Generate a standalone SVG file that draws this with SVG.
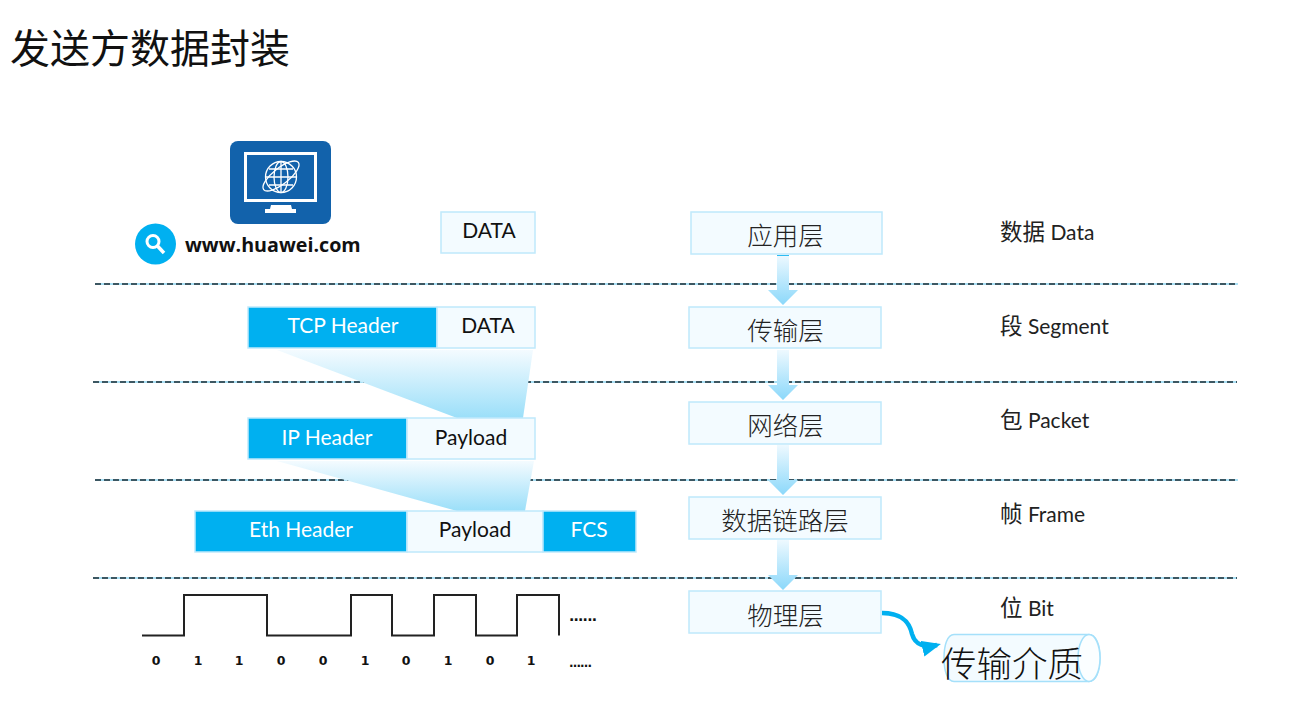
<svg xmlns="http://www.w3.org/2000/svg" width="1295" height="701" viewBox="0 0 1295 701">
<style>
.lat{font-family:Lato,"Open Sans","Noto Sans CJK SC",sans-serif}
.cjk{font-family:"Noto Sans CJK SC",sans-serif;font-weight:300}
.box{fill:#f3fbff;stroke:#bfe9fb;stroke-width:1.5}
.hdr{fill:#00b0f0;stroke:#bfe9fb;stroke-width:1.5}
.w{fill:#fff;font-size:21px;text-anchor:middle}
.k{fill:#111;font-size:21px;text-anchor:middle}
.layer{fill:#222;font-size:25.500px;text-anchor:middle}
.unit{fill:#222;font-size:21px}
.big{font-size:22.500px}
.bit{font-family:"DejaVu Sans",sans-serif;font-weight:700;font-size:12.500px;fill:#111;text-anchor:middle}
.dl{stroke:#8fd6f2;stroke-width:1.500;fill:none}
.dd{stroke:#182a32;stroke-width:1.500;stroke-dasharray:6 3;fill:none}
.fan{fill:url(#fan)}
.arr{fill:url(#arr)}
</style>
<defs>
<linearGradient id="fan" x1="0" y1="0" x2="0" y2="1"><stop offset="0" stop-color="#f4fbff"/><stop offset="1" stop-color="#9bdff9"/></linearGradient>
<linearGradient id="arr" x1="0" y1="0" x2="0" y2="1"><stop offset="0" stop-color="#eef9ff"/><stop offset="1" stop-color="#8bd8fa"/></linearGradient>
<marker id="tip" markerUnits="userSpaceOnUse" markerWidth="24" markerHeight="20" refX="15" refY="8" orient="auto"><path d="M0 0L19 8L0 16Z" fill="#00b0f0"/></marker>
</defs>
<text x="10" y="63" class="cjk" font-size="40" fill="#111" style="font-weight:400">发送方数据封装</text>
<g id="separators">
<path class="dl" d="M95 284H1238M93 382H1237M95 480H1238M93 578H1237"/>
<path class="dd" d="M95 284H1238M93 382H1237M95 480H1238M93 578H1237"/>
</g>
<g id="host">
<rect x="230" y="141" width="101" height="83" rx="8" fill="#1262ab"/>
<rect x="245.500" y="153.500" width="70" height="47" fill="none" stroke="#fff" stroke-width="3"/>
<path d="M271 205H291L292 209H296V213H265V209H270Z" fill="#fff"/>
<g fill="none" stroke="#fff" stroke-width="1.300">
<circle cx="281" cy="177" r="15.500"/>
<ellipse cx="281" cy="177" rx="7" ry="15.500"/>
<path d="M281 162V192M266 177H296M269 169H293M269 185H293"/>
<ellipse cx="281" cy="176" rx="22" ry="8" transform="rotate(-38 281 176)"/>
</g>
<circle cx="155.500" cy="244" r="20.500" fill="#00b0f0"/>
<circle cx="153" cy="241.500" r="6" fill="none" stroke="#fff" stroke-width="3"/>
<path d="M157.500 246L164 253" stroke="#fff" stroke-width="3.500" fill="none"/>
<text x="185" y="252" font-family="'Open Sans',sans-serif" font-weight="700" font-size="19.700" fill="#111">www.huawei.com</text>
</g>
<g id="fans">
<path class="fan" d="M277 350H533L523 418H457Z"/>
<path class="fan" d="M277 461H534L525 511H457Z"/>
</g>
<g id="data-app"><rect class="box" x="441" y="212" width="94" height="41"/><text x="489" y="238" class="lat k">DATA</text></g>
<g id="segment">
<rect class="hdr" x="248" y="307" width="189" height="41"/><text x="343" y="333" class="lat w">TCP Header</text>
<rect class="box" x="437" y="307" width="98" height="41"/><text x="488" y="333" class="lat k">DATA</text>
</g>
<g id="packet">
<rect class="hdr" x="248" y="418" width="159" height="41"/><text x="327" y="445" class="lat w">IP Header</text>
<rect class="box" x="407" y="418" width="128" height="41"/><text x="471" y="445" class="lat k">Payload</text>
</g>
<g id="frame">
<rect class="hdr" x="195" y="511" width="212" height="41"/><text x="301" y="537" class="lat w">Eth Header</text>
<rect class="box" x="407" y="511" width="136" height="41"/><text x="475" y="537" class="lat k">Payload</text>
<rect class="hdr" x="543" y="511" width="93" height="41"/><text x="589" y="537" class="lat w">FCS</text>
</g>
<g id="bits">
<path d="M142 635.500H184V595H267V635.500H351V595H392V635.500H434V595H476V635.500H517V595H559V635.500" fill="none" stroke="#222" stroke-width="2"/>
<text x="156" y="665" class="bit">0</text><text x="198" y="665" class="bit">1</text><text x="239" y="665" class="bit">1</text><text x="281" y="665" class="bit">0</text><text x="323" y="665" class="bit">0</text><text x="365" y="665" class="bit">1</text><text x="406" y="665" class="bit">0</text><text x="448" y="665" class="bit">1</text><text x="490" y="665" class="bit">0</text><text x="531" y="665" class="bit">1</text>
<text x="569" y="621" class="bit" style="text-anchor:start;font-size:14px" textLength="28">......</text>
<text x="569" y="667" class="bit" style="text-anchor:start;font-size:12px" textLength="23">......</text>
</g>
<g id="connectors">
<path class="arr" d="M777 255H789V290H798L783 305L768 290H777Z"/>
<path d="M777 255.500H789" stroke="#2fbcf2" fill="none"/>
<path class="arr" d="M777 350H789V385H798L783 400L768 385H777Z"/>
<path class="arr" d="M777 445H789V480H798L783 495L768 480H777Z"/>
<path class="arr" d="M777 540H789V575H798L783 590L768 575H777Z"/>
<path d="M882 613C905 613 910 625 912 634C915 645 925 648 937 645" fill="none" stroke="#00b0f0" stroke-width="4.500" marker-end="url(#tip)"/>
</g>
<g id="app"><rect class="box" x="691" y="212" width="191" height="42"/><text x="785.500" y="245" class="cjk layer">应用层</text></g>
<g id="transport"><rect class="box" x="689" y="307" width="192" height="41"/><text x="785.500" y="340" class="cjk layer">传输层</text></g>
<g id="network"><rect class="box" x="689" y="402" width="192" height="42"/><text x="785.500" y="435" class="cjk layer">网络层</text></g>
<g id="datalink"><rect class="box" x="689" y="497" width="192" height="42"/><text x="785" y="530" class="cjk layer">数据链路层</text></g>
<g id="physical"><rect class="box" x="689" y="591" width="192" height="42"/><text x="785.500" y="625" class="cjk layer">物理层</text></g>
<g id="units">
<text x="1000" y="240" class="lat unit"><tspan class="big">数据</tspan> Data</text>
<text x="1000" y="334" class="lat unit"><tspan class="big">段</tspan> Segment</text>
<text x="1000" y="428" class="lat unit"><tspan class="big">包</tspan> Packet</text>
<text x="1000" y="522" class="lat unit"><tspan class="big">帧</tspan> Frame</text>
<text x="1000" y="616" class="lat unit"><tspan class="big">位</tspan> Bit</text>
</g>
<g id="medium">
<path d="M954 634.500H1089C1096 634.500 1100 645 1100 658S1096 681.500 1089 681.500H954C947 681.500 944 670 944 658S947 634.500 954 634.500Z" fill="#f3fbff" stroke="#a5e0fa" stroke-width="1.500"/>
<ellipse cx="1089" cy="658" rx="11" ry="23.500" fill="#fbfeff" stroke="#a5e0fa" stroke-width="1.500"/>
<text x="1012" y="677" class="cjk" font-size="35.500" fill="#111" text-anchor="middle">传输介质</text>
</g>
</svg>
